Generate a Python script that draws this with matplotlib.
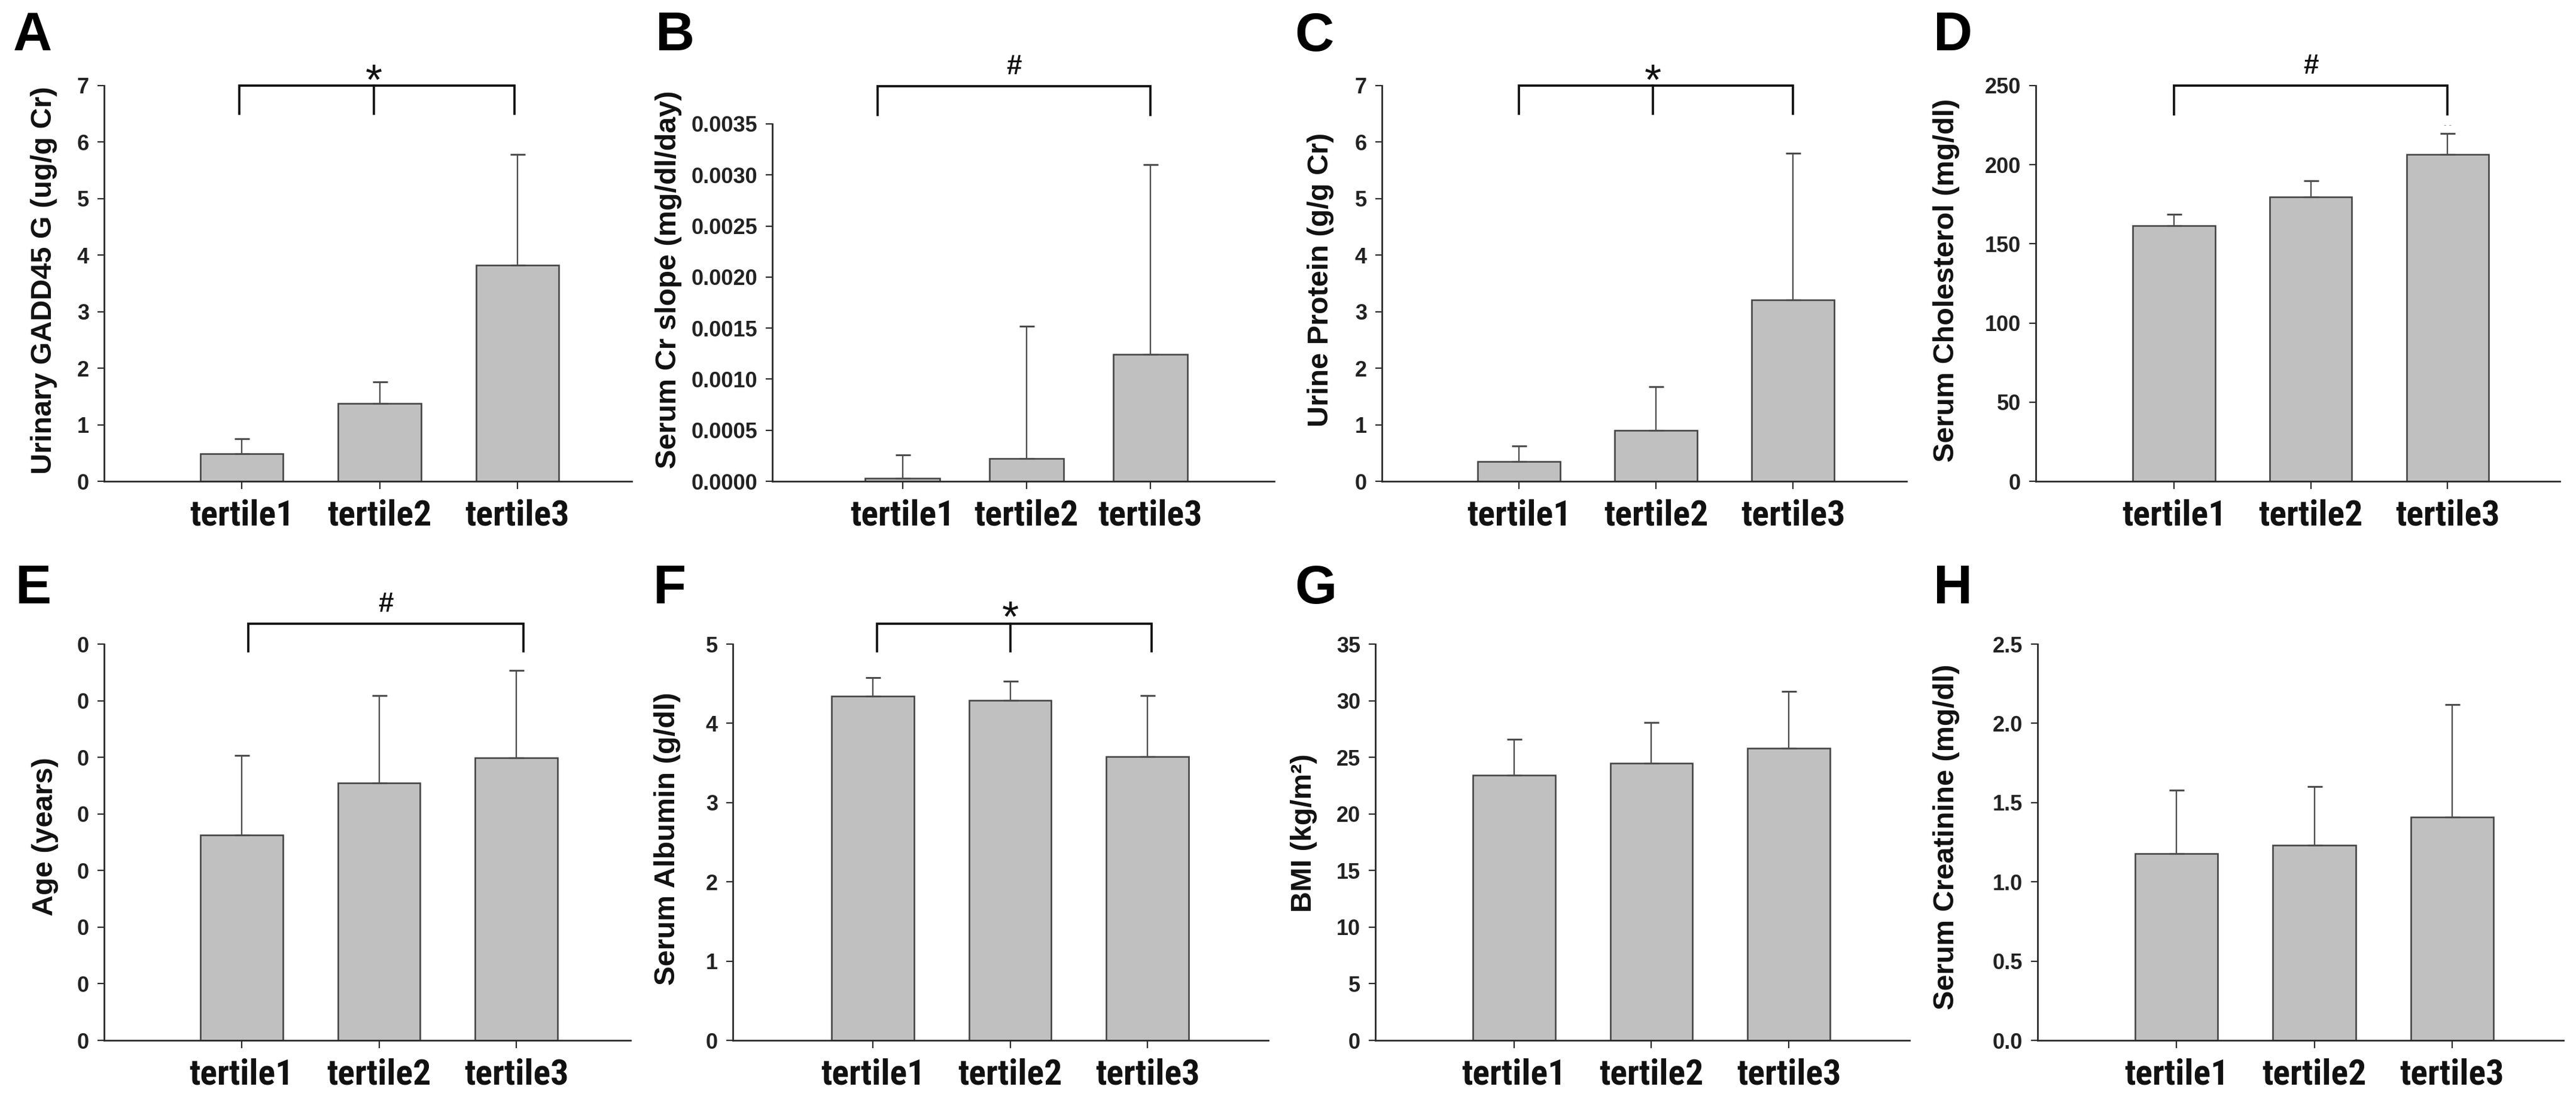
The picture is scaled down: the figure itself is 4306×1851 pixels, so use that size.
import matplotlib
matplotlib.use("Agg")
import matplotlib.pyplot as plt
from matplotlib import font_manager as fm
from matplotlib.ticker import FixedLocator, FixedFormatter
import numpy as np

# ---------------- data ----------------
groups = ["tertile1", "tertile2", "tertile3"]

gadd45_mean = [0.49, 1.38, 3.82]
gadd45_upper = [0.75, 1.76, 5.78]

cr_slope_mean = [0.00003, 0.00022, 0.00124]
cr_slope_upper = [0.00026, 0.00152, 0.00310]

urine_protein_mean = [0.35, 0.90, 3.21]
urine_protein_upper = [0.62, 1.67, 5.80]

cholesterol_mean = [161.5, 179.6, 206.5]
cholesterol_upper = [168.7, 189.7, 219.7]

age_mean = [36.3, 45.5, 49.9]
age_upper = [50.3, 60.9, 65.3]

albumin_mean = [4.34, 4.29, 3.58]
albumin_upper = [4.58, 4.53, 4.35]

bmi_mean = [23.4, 24.5, 25.8]
bmi_upper = [26.6, 28.1, 30.8]

creatinine_mean = [1.18, 1.23, 1.41]
creatinine_upper = [1.58, 1.60, 2.12]

ylabels = ["Urinary GADD45 G (ug/g Cr)", "Serum Cr slope (mg/dl/day)",
           "Urine Protein (g/g Cr)", "Serum Cholesterol (mg/dl)",
           "Age (years)", "Serum Albumin (g/dl)", "BMI (kg/m\u00b2)",
           "Serum Creatinine (mg/dl)"]
letters = ["A", "B", "C", "D", "E", "F", "G", "H"]

yticks_A = [0, 1, 2, 3, 4, 5, 6, 7]
yticks_B = [0, 0.0005, 0.0010, 0.0015, 0.0020, 0.0025, 0.0030, 0.0035]
yticks_C = [0, 1, 2, 3, 4, 5, 6, 7]
yticks_D = [0, 50, 100, 150, 200, 250]
yticks_E = [0, 10, 20, 30, 40, 50, 60, 70]
yticks_F = [0, 1, 2, 3, 4, 5]
yticks_G = [0, 5, 10, 15, 20, 25, 30, 35]
yticks_H = [0, 0.5, 1.0, 1.5, 2.0, 2.5]

ticklabels_A = ["0", "1", "2", "3", "4", "5", "6", "7"]
ticklabels_B = ["0.0000", "0.0005", "0.0010", "0.0015", "0.0020", "0.0025", "0.0030", "0.0035"]
ticklabels_C = ["0", "1", "2", "3", "4", "5", "6", "7"]
ticklabels_D = ["0", "50", "100", "150", "200", "250"]
ticklabels_E = ["0", "0", "0", "0", "0", "0", "0", "0"]
ticklabels_F = ["0", "1", "2", "3", "4", "5"]
ticklabels_G = ["0", "5", "10", "15", "20", "25", "30", "35"]
ticklabels_H = ["0.0", "0.5", "1.0", "1.5", "2.0", "2.5"]

sig_symbols = ["*", "#", "*", "#", "#", "*", None, None]

# ---------------- layout / style (not data) ----------------
W, H = 4306, 1851
DPI = 100
# axes boxes in pixels: x0, x1, ytop, ybottom
boxes = [
    (174, 1056, 143, 804), (1291, 2130, 207, 804),
    (2310, 3187, 143, 804), (3403, 4279, 143, 804),
    (174, 1054, 1076, 1738), (1225, 2120, 1076, 1738),
    (2299, 3192, 1076, 1738), (3406, 4285, 1076, 1738),
]
xlims = [(0.0, 3.83), (-0.05, 4.0), (0.0, 3.83), (-0.01, 3.82),
         (0.0, 3.83), (-0.02, 3.88), (-0.01, 3.88), (-0.01, 3.81)]
letter_pos = [(22, 61), (1096, 61), (2164, 61), (3232, 61),
              (26, 984), (1092, 984), (2164, 984), (3232, 984)]
ylabel_pos = [(74, 468), (1118, 467), (2208, 467), (3254, 468),
              (75, 1398), (1115, 1401), (2180, 1392), (3254, 1398)]
# bracket: (left, right, mid tick or None, y_top, y_bottom, symbol anchor y)
brackets = [
    (0.98, 2.98, 1.96, 7.0, 6.5, 6.69),
    (0.80, 3.00, None, 0.00387, 0.00359, 0.00393),
    (1.00, 3.00, 1.98, 7.0, 6.5, 6.69),
    (1.00, 3.00, None, 250, 231.8, 253.8),
    (1.05, 3.05, None, 73.6, 68.7, 74.7),
    (1.03, 3.03, 2.00, 5.26, 4.91, 5.05),
    None, None,
]

names = {f.name for f in fm.fontManager.ttflist}
base_font = "Liberation Sans" if "Liberation Sans" in names else "DejaVu Sans"
narrow_font = None
for cand in ["Liberation Sans Narrow", "Arial Narrow", "Roboto Condensed",
             "Open Sans Condensed"]:
    if cand in names:
        narrow_font = cand
        break
if narrow_font is not None:
    xlab_family = [narrow_font, base_font, "DejaVu Sans"]
    xlab_size = 43
else:
    xlab_family = [base_font, "DejaVu Sans"]
    xlab_size = 37

plt.rcParams["font.family"] = [base_font, "DejaVu Sans"]
plt.rcParams["font.weight"] = "bold"

means = [gadd45_mean, cr_slope_mean, urine_protein_mean, cholesterol_mean,
         age_mean, albumin_mean, bmi_mean, creatinine_mean]
uppers = [gadd45_upper, cr_slope_upper, urine_protein_upper, cholesterol_upper,
          age_upper, albumin_upper, bmi_upper, creatinine_upper]
yticks_all = [yticks_A, yticks_B, yticks_C, yticks_D, yticks_E, yticks_F, yticks_G, yticks_H]
ytl_all = [ticklabels_A, ticklabels_B, ticklabels_C, ticklabels_D,
           ticklabels_E, ticklabels_F, ticklabels_G, ticklabels_H]

fig = plt.figure(figsize=(W / DPI, H / DPI), dpi=DPI)
fig.patch.set_facecolor("white")

axis_col = "#2a2a2a"
x = np.arange(1, len(groups) + 1)

for i in range(8):
    x0, x1, yt, yb = boxes[i]
    ax = fig.add_axes([x0 / W, 1 - yb / H, (x1 - x0) / W, (yb - yt) / H])
    m = np.array(means[i])
    up = np.array(uppers[i])
    ax.bar(x, m, width=0.6, color="#c0c0c0", edgecolor="#444444",
           linewidth=1.9, zorder=2)
    ax.errorbar(x, m, yerr=[np.zeros_like(m), up - m], fmt="none",
                ecolor="#4d4d4d", elinewidth=1.7, capsize=9, capthick=2.2,
                zorder=3)
    ax.set_xlim(*xlims[i])
    ax.set_ylim(0, yticks_all[i][-1])
    ax.yaxis.set_major_locator(FixedLocator(yticks_all[i]))
    ax.yaxis.set_major_formatter(FixedFormatter(ytl_all[i]))
    ax.set_xticks(x)
    ax.set_xticklabels(groups, fontsize=xlab_size, fontweight="bold",
                       color="#111111", family=xlab_family)
    for s in ["top", "right"]:
        ax.spines[s].set_visible(False)
    for s in ["left", "bottom"]:
        ax.spines[s].set_color(axis_col)
        ax.spines[s].set_linewidth(2.0)
    ax.tick_params(axis="y", direction="out", length=8, width=1.6,
                   color=axis_col, labelsize=26, pad=10, labelcolor="#222222")
    ax.tick_params(axis="x", direction="out", length=9, width=1.6,
                   color=axis_col, pad=12)
    for lab in ax.get_yticklabels():
        lab.set_fontweight("bold")

    br = brackets[i]
    if br is not None:
        l, r, mid, top, bot, sy = br
        ax.plot([l, l, r, r], [bot, top, top, bot], color="#111111", lw=2.7,
                clip_on=False, solid_joinstyle="miter", zorder=4)
        if mid is not None:
            ax.plot([mid, mid], [top, bot], color="#111111", lw=2.7,
                    clip_on=False, zorder=4)
        cx = mid if mid is not None else (l + r) / 2
        if sig_symbols[i] == "*":
            ax.text(cx, sy, "*", fontsize=52, fontweight="normal",
                    ha="center", va="bottom", color="#111111", clip_on=False)
        else:
            ax.text(cx, sy, "#", fontsize=33, fontweight="bold",
                    ha="center", va="bottom", color="#111111", clip_on=False)
    if i == 3:
        ax.text(3.0, 225, "- -", fontsize=10, color="#9a9a9a",
                ha="center", va="center", fontweight="normal")

    lx, ly = letter_pos[i]
    fig.text(lx / W, 1 - ly / H, letters[i], fontsize=65, fontweight="bold",
             ha="left", va="center", color="#000000")
    yx, yy = ylabel_pos[i]
    fig.text(yx / W, 1 - yy / H, ylabels[i], fontsize=35, fontweight="bold",
             rotation=90, ha="center", va="center", color="#111111")

fig.savefig("out.png", dpi=DPI, facecolor="white")
